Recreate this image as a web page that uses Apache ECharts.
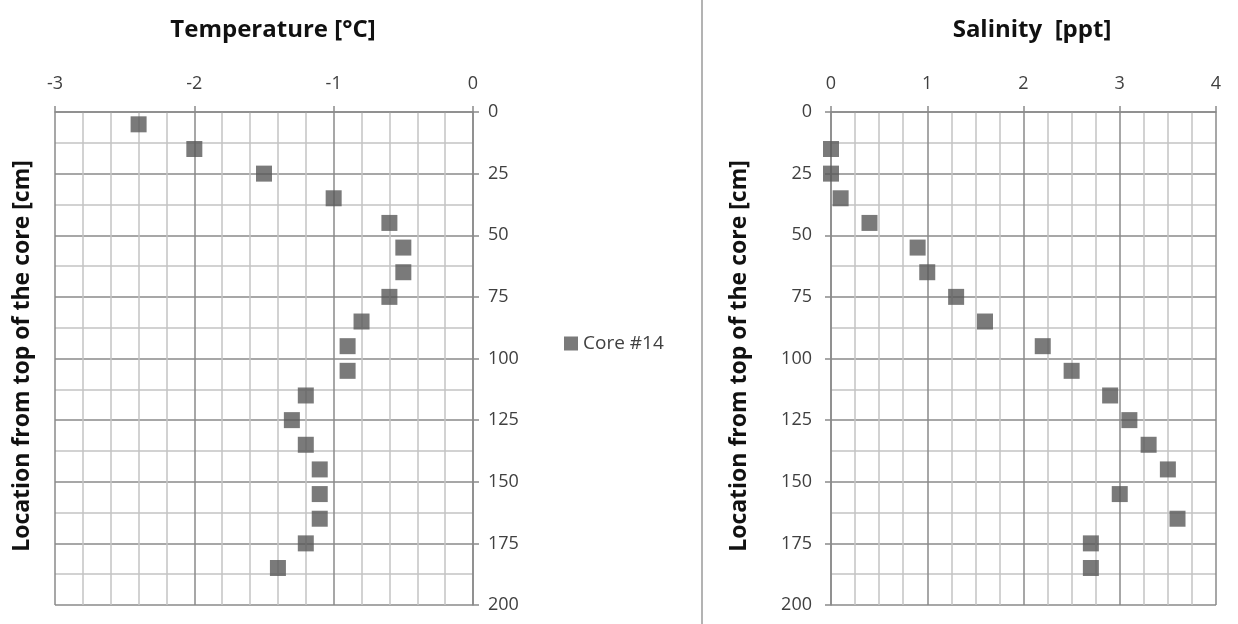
<!DOCTYPE html>
<html>
<head>
<meta charset="utf-8">
<script src="https://cdn.jsdelivr.net/npm/echarts@6/dist/echarts.min.js"></script>
<style>
  html, body { margin: 0; padding: 0; background: #fff; }
  #chart { width: 1238px; height: 624px; }
</style>
</head>
<body>
<div id="chart"></div>
<script>
// depth below top of core [cm]
const tempDepths = [5, 15, 25, 35, 45, 55, 65, 75, 85, 95, 105, 115, 125, 135, 145, 155, 165, 175, 185]
const temperature = [-2.4, -2.0, -1.5, -1.0, -0.6, -0.5, -0.5, -0.6, -0.8, -0.9, -0.9, -1.2, -1.3, -1.2, -1.1, -1.1, -1.1, -1.2, -1.4]
const salDepths = [15, 25, 35, 45, 55, 65, 75, 85, 95, 105, 115, 125, 135, 145, 155, 165, 175, 185]
const salinity = [0.0, 0.0, 0.1, 0.4, 0.9, 1.0, 1.3, 1.6, 2.2, 2.5, 2.9, 3.1, 3.3, 3.5, 3.0, 3.6, 2.7, 2.7]
const depthTicks = [0, 25, 50, 75, 100, 125, 150, 175, 200]
const seriesName = 'Core #14'

const font = 'Open Sans'
const majorColor = '#8a8a8a'
const minorColor = '#c4c4c4'
const markColor = '#595959'

const chart = echarts.init(document.getElementById('chart'))

function xAxisCfg (gridIndex, min, max, minorSplit) {
  return {
    gridIndex,
    type: 'value',
    position: 'top',
    min,
    max,
    interval: 1,
    axisLine: { show: true, lineStyle: { color: majorColor, width: 1.5 } },
    axisTick: { show: true, inside: false, length: 6, lineStyle: { color: majorColor, width: 1.5 } },
    axisLabel: { color: '#404040', fontSize: 18, fontFamily: font, margin: 19 },
    splitLine: { show: true, lineStyle: { color: majorColor, width: 1.5 } },
    minorTick: { show: false, splitNumber: minorSplit },
    minorSplitLine: { show: true, lineStyle: { color: minorColor, width: 1.5 } }
  }
}

function yAxisCfg (gridIndex, position, margin) {
  return {
    gridIndex,
    type: 'value',
    position,
    inverse: true,
    min: depthTicks[0],
    max: depthTicks[depthTicks.length - 1],
    interval: depthTicks[1] - depthTicks[0],
    axisLine: { show: true, lineStyle: { color: majorColor, width: 1.5 } },
    axisTick: { show: true, inside: false, length: 6, lineStyle: { color: majorColor, width: 1.5 } },
    axisLabel: { color: '#404040', fontSize: 18, fontFamily: font, margin },
    splitLine: { show: true, lineStyle: { color: majorColor, width: 1.5 } },
    minorTick: { show: false, splitNumber: 2 },
    minorSplitLine: { show: true, lineStyle: { color: minorColor, width: 1.5 } }
  }
}

const yTitle = 'Location from top of the core [cm]'

function yTitleText (x) {
  return {
    type: 'text',
    x,
    y: 356,
    rotation: Math.PI / 2,
    style: {
      text: yTitle,
      fontFamily: font,
      fontSize: 23,
      fontWeight: 'bold',
      fill: '#111',
      align: 'center',
      verticalAlign: 'middle'
    }
  }
}

chart.setOption({
  animation: false,
  backgroundColor: '#fff',
  title: [
    {
      text: 'Temperature [°C]',
      left: 268,
      top: 13,
      textAlign: 'center',
      textStyle: { fontFamily: font, fontSize: 24, fontWeight: 'bold', color: '#111' }
    },
    {
      text: 'Salinity  [ppt]',
      left: 1027,
      top: 13,
      textAlign: 'center',
      textStyle: { fontFamily: font, fontSize: 24, fontWeight: 'bold', color: '#111' }
    }
  ],
  legend: {
    left: 559,
    top: 329,
    icon: 'rect',
    itemWidth: 14,
    itemHeight: 14,
    itemGap: 6,
    data: [seriesName],
    textStyle: { fontFamily: font, fontSize: 19, color: '#404040' }
  },
  grid: [
    { left: 55, top: 112, width: 418, height: 493 },
    { left: 831, top: 112, width: 385, height: 493 }
  ],
  xAxis: [
    xAxisCfg(0, -3, 0, 5),
    xAxisCfg(1, 0, 4, 4)
  ],
  yAxis: [
    yAxisCfg(0, 'right', 15),
    yAxisCfg(1, 'left', 19)
  ],
  graphic: [
    {
      type: 'line',
      shape: { x1: 702, y1: 0, x2: 702, y2: 624 },
      style: { stroke: '#9a9a9a', lineWidth: 1.5 }
    },
    yTitleText(22),
    yTitleText(739)
  ],
  series: [
    {
      name: seriesName,
      type: 'scatter',
      xAxisIndex: 0,
      yAxisIndex: 0,
      symbol: 'rect',
      symbolSize: 16,
      itemStyle: { color: markColor },
      data: temperature.map((v, i) => [v, tempDepths[i]])
    },
    {
      name: seriesName,
      type: 'scatter',
      xAxisIndex: 1,
      yAxisIndex: 1,
      symbol: 'rect',
      symbolSize: 16,
      itemStyle: { color: markColor },
      data: salinity.map((v, i) => [v, salDepths[i]])
    }
  ]
})
</script>
</body>
</html>
